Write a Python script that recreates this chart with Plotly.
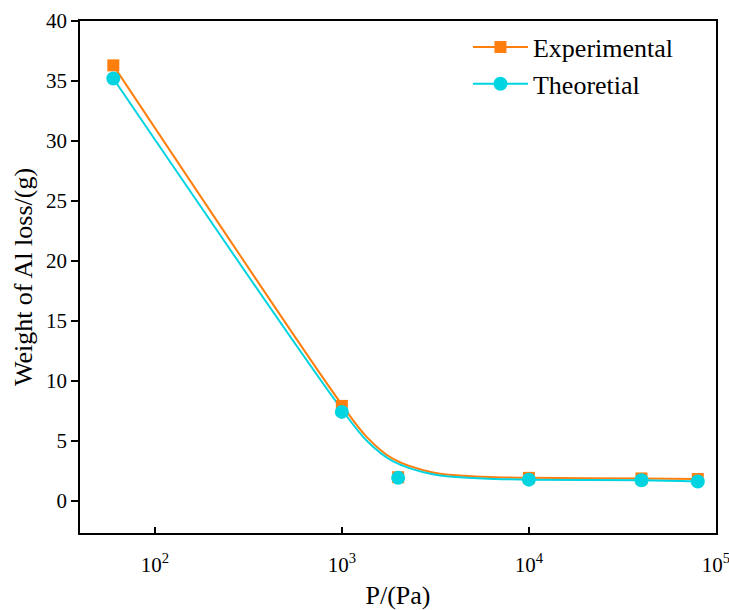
import plotly.graph_objects as go

# Measured points
pressure = [60, 1000, 2000, 10000, 40000, 80000]
experimental = [36.3, 7.9, 1.95, 1.9, 1.85, 1.8]
theoretical = [35.2, 7.4, 1.9, 1.75, 1.7, 1.6]

# Smooth fitted curves
curve_p = [60, 1000, 1360, 1870, 3070, 5680, 10000, 40000, 80000]
curve_exp = [36.3, 8.0, 5.3, 3.5, 2.35, 2.0, 1.9, 1.85, 1.8]
curve_theo = [35.2, 7.6, 5.0, 3.3, 2.2, 1.85, 1.75, 1.7, 1.6]

x_tickvals = [100, 1000, 10000, 100000]
x_ticktext = ["10<sup>2</sup>", "10<sup>3</sup>", "10<sup>4</sup>", "10<sup>5</sup>"]
y_tickvals = [0, 5, 10, 15, 20, 25, 30, 35, 40]

orange = "#FF7F0E"
cyan = "#00D4E0"

fig = go.Figure()
fig.add_trace(go.Scatter(x=curve_p, y=curve_exp, mode="lines", line=dict(color=orange, width=2, shape="spline", smoothing=1.0), showlegend=False, hoverinfo="skip"))
fig.add_trace(go.Scatter(x=curve_p, y=curve_theo, mode="lines", line=dict(color=cyan, width=2, shape="spline", smoothing=1.0), showlegend=False, hoverinfo="skip"))
fig.add_trace(go.Scatter(x=pressure, y=experimental, mode="markers", marker=dict(symbol="square", size=12, color=orange), showlegend=False))
fig.add_trace(go.Scatter(x=pressure, y=theoretical, mode="markers", marker=dict(symbol="circle", size=14, color=cyan), showlegend=False))
# legend entries
fig.add_trace(go.Scatter(x=[None], y=[None], mode="lines+markers", name="Experimental", line=dict(color=orange, width=2), marker=dict(symbol="square", size=12, color=orange)))
fig.add_trace(go.Scatter(x=[None], y=[None], mode="lines+markers", name="Theoretial", line=dict(color=cyan, width=2), marker=dict(symbol="circle", size=14, color=cyan)))

fig.update_layout(
    width=729, height=610,
    margin=dict(l=80, r=13, t=21, b=77),
    paper_bgcolor="white", plot_bgcolor="white",
    font=dict(family="Liberation Serif", size=21, color="black"),
    legend=dict(x=0.61, y=0.995, xanchor="left", yanchor="top", font=dict(size=26), bgcolor="rgba(0,0,0,0)", itemwidth=55, tracegroupgap=0),
    xaxis=dict(type="log", range=[1.6, 5.0005], tickvals=x_tickvals, ticktext=x_ticktext,
               ticks="inside", ticklen=6, tickwidth=1.5, tickcolor="black",
               showline=True, linecolor="black", linewidth=1.5, mirror=True, showgrid=False, zeroline=False,
               ticklabelstandoff=12, ticklabeloverflow="allow", automargin=False,
               title=dict(text="P/(Pa)", font=dict(size=26), standoff=13), tickfont=dict(size=21)),
    yaxis=dict(range=[-2.7, 40], tickvals=y_tickvals,
               ticks="outside", ticklen=7, tickwidth=1.5, tickcolor="black",
               showline=True, linecolor="black", linewidth=1.5, mirror=True, showgrid=False, zeroline=False,
               automargin=False,
               title=dict(text="Weight of Al loss/(g)", font=dict(size=26), standoff=6), tickfont=dict(size=21)),
)

fig.write_html("out.html")
